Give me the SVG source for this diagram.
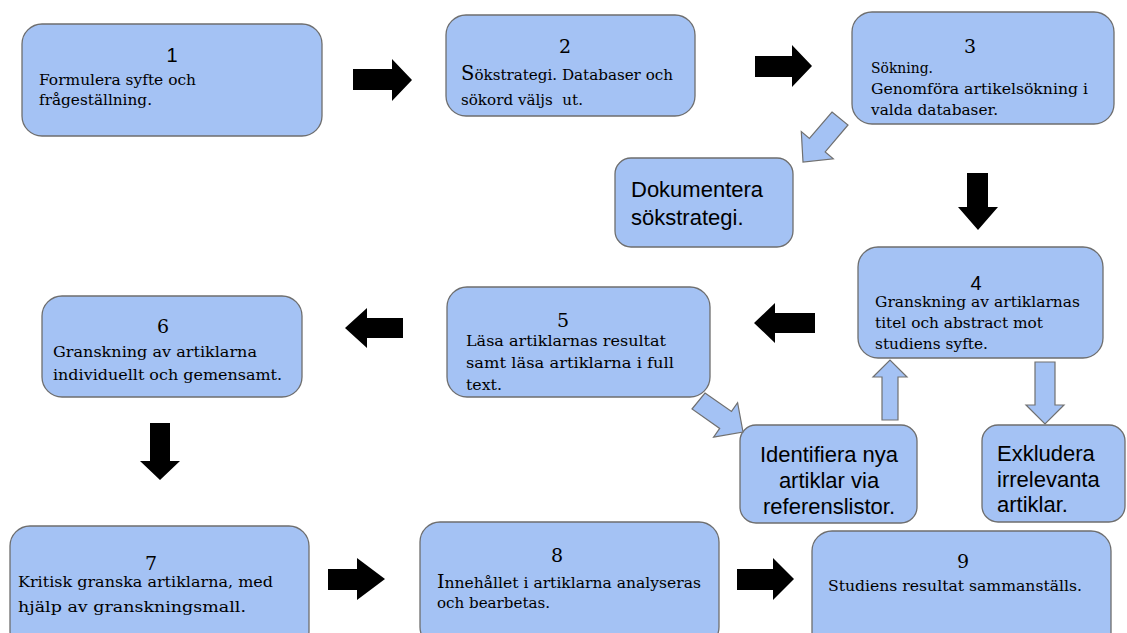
<svg xmlns="http://www.w3.org/2000/svg" width="1127" height="633" viewBox="0 0 1127 633">
<style>
.box{fill:#a4c2f4;stroke:#6e6e6e;stroke-width:1.3}
.blk{fill:#000}
.la{fill:#a4c2f4;stroke:#707070;stroke-width:1.2;stroke-linejoin:miter}
.t{font-family:"DejaVu Serif","Liberation Serif",serif;font-size:15.5px;fill:#000}
.ns{font-family:"Liberation Sans",Arial,sans-serif;font-size:20px;fill:#000;text-anchor:middle}
.nr{font-family:"DejaVu Serif","Liberation Serif",serif;font-size:19px;fill:#000;text-anchor:middle}
.big{font-family:"Liberation Sans",Arial,sans-serif;font-size:22px;fill:#000}
.mid{text-anchor:middle}
</style>
<rect width="1127" height="633" fill="#ffffff"/>
<g id="n1">
<rect class="box" x="22" y="24" width="300" height="112" rx="20"/>
<text class="ns" x="172" y="62">1</text>
<text class="t" x="39" y="85" textLength="157" lengthAdjust="spacingAndGlyphs">Formulera syfte och</text>
<text class="t" x="39" y="105" textLength="113" lengthAdjust="spacingAndGlyphs">frågeställning.</text>
</g>
<g id="n2">
<rect class="box" x="446" y="15" width="249" height="101" rx="20"/>
<text class="nr" x="565" y="53">2</text>
<text class="t" x="461" y="80" textLength="212" lengthAdjust="spacingAndGlyphs"><tspan font-size="20">S</tspan>ökstrategi. Databaser och</text>
<text class="t" x="461" y="105" xml:space="preserve" textLength="122" lengthAdjust="spacingAndGlyphs">sökord väljs  ut.</text>
</g>
<g id="n3">
<rect class="box" x="852" y="12" width="262" height="112" rx="20"/>
<text class="nr" x="970" y="53">3</text>
<text class="t" x="871" y="73" textLength="62" lengthAdjust="spacingAndGlyphs">Sökning.</text>
<text class="t" x="871" y="94" textLength="217" lengthAdjust="spacingAndGlyphs">Genomföra artikelsökning i</text>
<text class="t" x="871" y="115" textLength="127" lengthAdjust="spacingAndGlyphs">valda databaser.</text>
</g>
<g id="doc">
<rect class="box" x="615" y="158" width="178" height="89" rx="16"/>
<text class="big" x="631" y="197">Dokumentera</text>
<text class="big" x="631" y="225">sökstrategi.</text>
</g>
<g id="n4">
<rect class="box" x="858" y="247" width="245" height="111" rx="20"/>
<text class="ns" x="976" y="290">4</text>
<text class="t" x="875" y="307" textLength="205" lengthAdjust="spacingAndGlyphs">Granskning av artiklarnas</text>
<text class="t" x="875" y="328" textLength="168" lengthAdjust="spacingAndGlyphs">titel och abstract mot</text>
<text class="t" x="875" y="349" textLength="113" lengthAdjust="spacingAndGlyphs">studiens syfte.</text>
</g>
<g id="n5">
<rect class="box" x="447" y="287" width="263" height="110" rx="20"/>
<text class="nr" x="563" y="327">5</text>
<text class="t" x="466" y="346" textLength="200" lengthAdjust="spacingAndGlyphs">Läsa artiklarnas resultat</text>
<text class="t" x="466" y="368" textLength="208" lengthAdjust="spacingAndGlyphs">samt läsa artiklarna i full</text>
<text class="t" x="466" y="390" textLength="36" lengthAdjust="spacingAndGlyphs">text.</text>
</g>
<g id="n6">
<rect class="box" x="42" y="296" width="260" height="101" rx="20"/>
<text class="nr" x="163" y="333">6</text>
<text class="t" x="53" y="357" textLength="204" lengthAdjust="spacingAndGlyphs">Granskning av artiklarna</text>
<text class="t" x="53" y="380" textLength="229" lengthAdjust="spacingAndGlyphs">individuellt och gemensamt.</text>
</g>
<g id="ident">
<rect class="box" x="740" y="425" width="177" height="98" rx="16"/>
<text class="big mid" x="829" y="462">Identifiera nya</text>
<text class="big mid" x="829" y="488">artiklar via</text>
<text class="big mid" x="829" y="514">referenslistor.</text>
</g>
<g id="exkl">
<rect class="box" x="982" y="425" width="143" height="97" rx="16"/>
<text class="big" x="997" y="461">Exkludera</text>
<text class="big" x="997" y="487">irrelevanta</text>
<text class="big" x="997" y="512">artiklar.</text>
</g>
<g id="n7">
<rect class="box" x="10" y="526" width="299" height="125" rx="20"/>
<text class="nr" x="151" y="570">7</text>
<text class="t" x="18" y="587" textLength="255" lengthAdjust="spacingAndGlyphs">Kritisk granska artiklarna, med</text>
<text class="t" x="18" y="612" textLength="228" lengthAdjust="spacingAndGlyphs">hjälp av granskningsmall.</text>
</g>
<g id="n8">
<rect class="box" x="420" y="522" width="299" height="125" rx="20"/>
<text class="nr" x="557" y="562">8</text>
<text class="t" x="437" y="588" textLength="264" lengthAdjust="spacingAndGlyphs"><tspan font-size="19">I</tspan>nnehållet i artiklarna analyseras</text>
<text class="t" x="437" y="608" textLength="113" lengthAdjust="spacingAndGlyphs">och bearbetas.</text>
</g>
<g id="n9">
<rect class="box" x="812" y="531" width="299" height="125" rx="20"/>
<text class="nr" x="963" y="568">9</text>
<text class="t" x="828" y="591" textLength="254" lengthAdjust="spacingAndGlyphs">Studiens resultat sammanställs.</text>
</g>
<g id="connectors">
<polygon class="blk" points="353,69 392,69 392,59 412,80 392,101 392,90 353,90"/>
<polygon class="blk" points="755,56 792,56 792,45 812,66 792,87 792,77 755,77"/>
<polygon class="blk" points="967,173 988,173 988,207 998,207 978,230 958,207 967,207"/>
<polygon class="blk" points="815,313 775,313 775,303 754,323 775,343 775,333 815,333"/>
<polygon class="blk" points="403,318 367,318 367,308 345,328 367,348 367,338 403,338"/>
<polygon class="blk" points="150,423 170,423 170,461 180,461 160,480 140,461 150,461"/>
<polygon class="blk" points="328,569 357,569 357,558 385,579 357,600 357,590 328,590"/>
<polygon class="blk" points="737,569 773,569 773,558 794,579 773,600 773,590 737,590"/>
<polygon class="la" points="832,112 848,125 825.2,151.9 833.3,158.8 803,162 801.3,131.6 809.4,138.5"/>
<polygon class="la" points="705,393 731.5,411.4 737.6,402.7 743,432 713.6,437.1 719.7,428.4 692,409"/>
<polygon class="la" points="882,420 882,377 873,377 890,360 907,377 898,377 898,420"/>
<polygon class="la" points="1035,362 1055,362 1055,405 1064,405 1045,424 1026,405 1035,405"/>
</g>
</svg>
